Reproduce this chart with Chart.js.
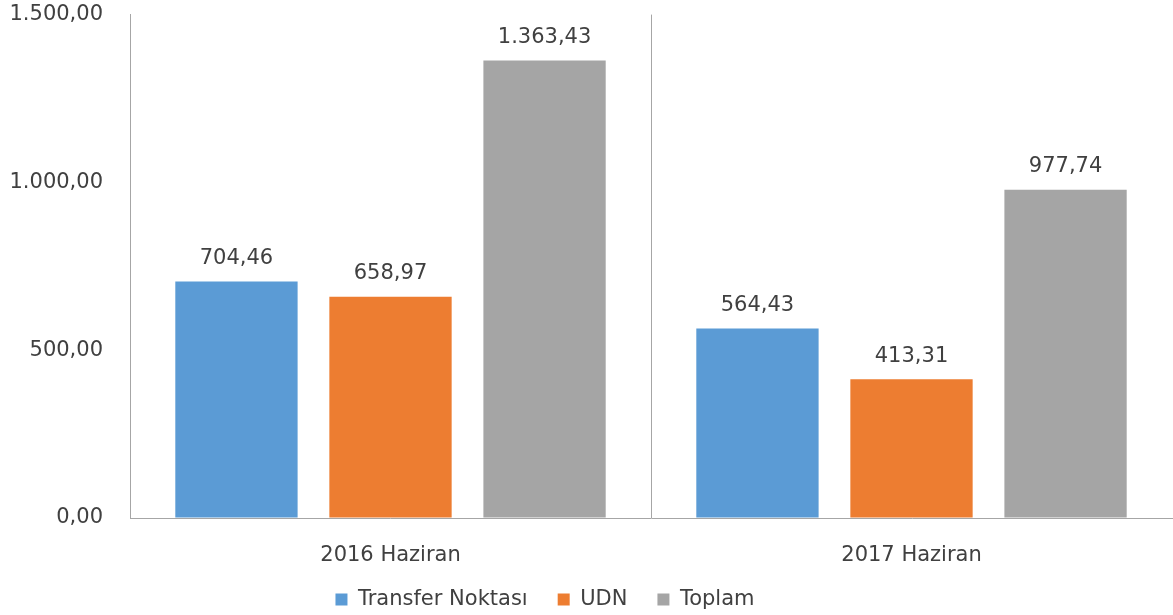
<!DOCTYPE html>
<html>
<head>
<meta charset="utf-8">
<script src="https://cdn.jsdelivr.net/npm/chart.js@4.4.0/dist/chart.umd.min.js"></script>
<style>
html, body { margin: 0; padding: 0; background: #fff; }
#wrap { width: 1173px; height: 615px; }
</style>
</head>
<body>
<div id="wrap"><canvas id="chBar"></canvas></div>
<script>
"use strict";

const categories = ['2016 Haziran', '2017 Haziran'];
const seriesNames = ['Transfer Noktası', 'UDN', 'Toplam'];
const transferValues = [704.46, 564.43];
const udnValues = [658.97, 413.31];
const toplamValues = [1363.43, 977.74];
const yTicks = [0, 500, 1000, 1500];

const colors = ['#5b9bd5', '#ed7d31', '#a5a5a5'];
const textColor = '#404040';
const axisColor = '#a6a6a6';
const fontFamily = '"DejaVu Sans", Verdana, sans-serif';
const fontSize = 21;

// 1363.43 -> "1.363,43"
function formatTr(v){
	const parts = Number(v).toFixed(2).split('.');
	parts[0] = parts[0].replace(/\B(?=(\d{3})+(?!\d))/g, '.');
	return parts.join(',');
}

const valueLabels = {
	id: 'valueLabels',
	afterDatasetsDraw(chart){
		const ctx = chart.ctx;
		ctx.save();
		ctx.font = fontSize + 'px ' + fontFamily;
		ctx.fillStyle = textColor;
		ctx.textAlign = 'center';
		ctx.textBaseline = 'middle';
		chart.data.datasets.forEach((ds, i) => {
			chart.getDatasetMeta(i).data.forEach((bar, j) => {
				ctx.fillText(formatTr(ds.data[j]), bar.x, bar.y - 23);
			});
		});
		ctx.restore();
	}
};

// legend in the original sits left of centre
const legendShift = {
	id: 'legendShift',
	afterLayout(chart){
		const lg = chart.legend;
		lg.left -= 41; lg.right -= 41;
		lg.top -= 9; lg.bottom -= 9;
	}
};

const chData = {
	labels: categories,
	datasets: [
		{ label: seriesNames[0], data: transferValues, backgroundColor: colors[0] },
		{ label: seriesNames[1], data: udnValues, backgroundColor: colors[1] },
		{ label: seriesNames[2], data: toplamValues, backgroundColor: colors[2] }
	]
};

const chOptions = {
	responsive: true,
	maintainAspectRatio: false,
	animation: false,
	layout: { padding: { top: 1, right: 1, left: 0, bottom: -14 } },
	datasets: { bar: { categoryPercentage: 0.887, barPercentage: 0.794, borderWidth: 0 } },
	plugins: {
		tooltip: { enabled: false },
		legend: {
			position: 'bottom',
			labels: {
				boxWidth: 12, boxHeight: 12, padding: 30,
				color: textColor,
				font: { family: fontFamily, size: fontSize }
			}
		}
	},
	scales: {
		x: {
			grid: {
				offset: true,
				drawTicks: false,
				color: c => c.index === 1 ? axisColor : 'rgba(0,0,0,0)'
			},
			border: { display: true, color: axisColor },
			afterFit: s => { s.height = 50; },
			ticks: { padding: 25, color: textColor, font: { family: fontFamily, size: fontSize } }
		},
		y: {
			min: yTicks[0],
			max: yTicks[yTicks.length - 1],
			grid: { display: true, drawOnChartArea: false, drawTicks: true, tickLength: 25, tickColor: 'rgba(0,0,0,0)' },
			border: { display: true, color: axisColor },
			afterFit: s => { s.width = 130; },
			afterBuildTicks: s => { s.ticks = yTicks.map(v => ({ value: v })); },
			ticks: {
				padding: 2,
				color: textColor,
				font: { family: fontFamily, size: fontSize },
				callback: v => formatTr(v)
			}
		}
	}
};

new Chart(document.getElementById('chBar'), {
	type: 'bar',
	data: chData,
	options: chOptions,
	plugins: [valueLabels, legendShift]
});
</script>
</body>
</html>
